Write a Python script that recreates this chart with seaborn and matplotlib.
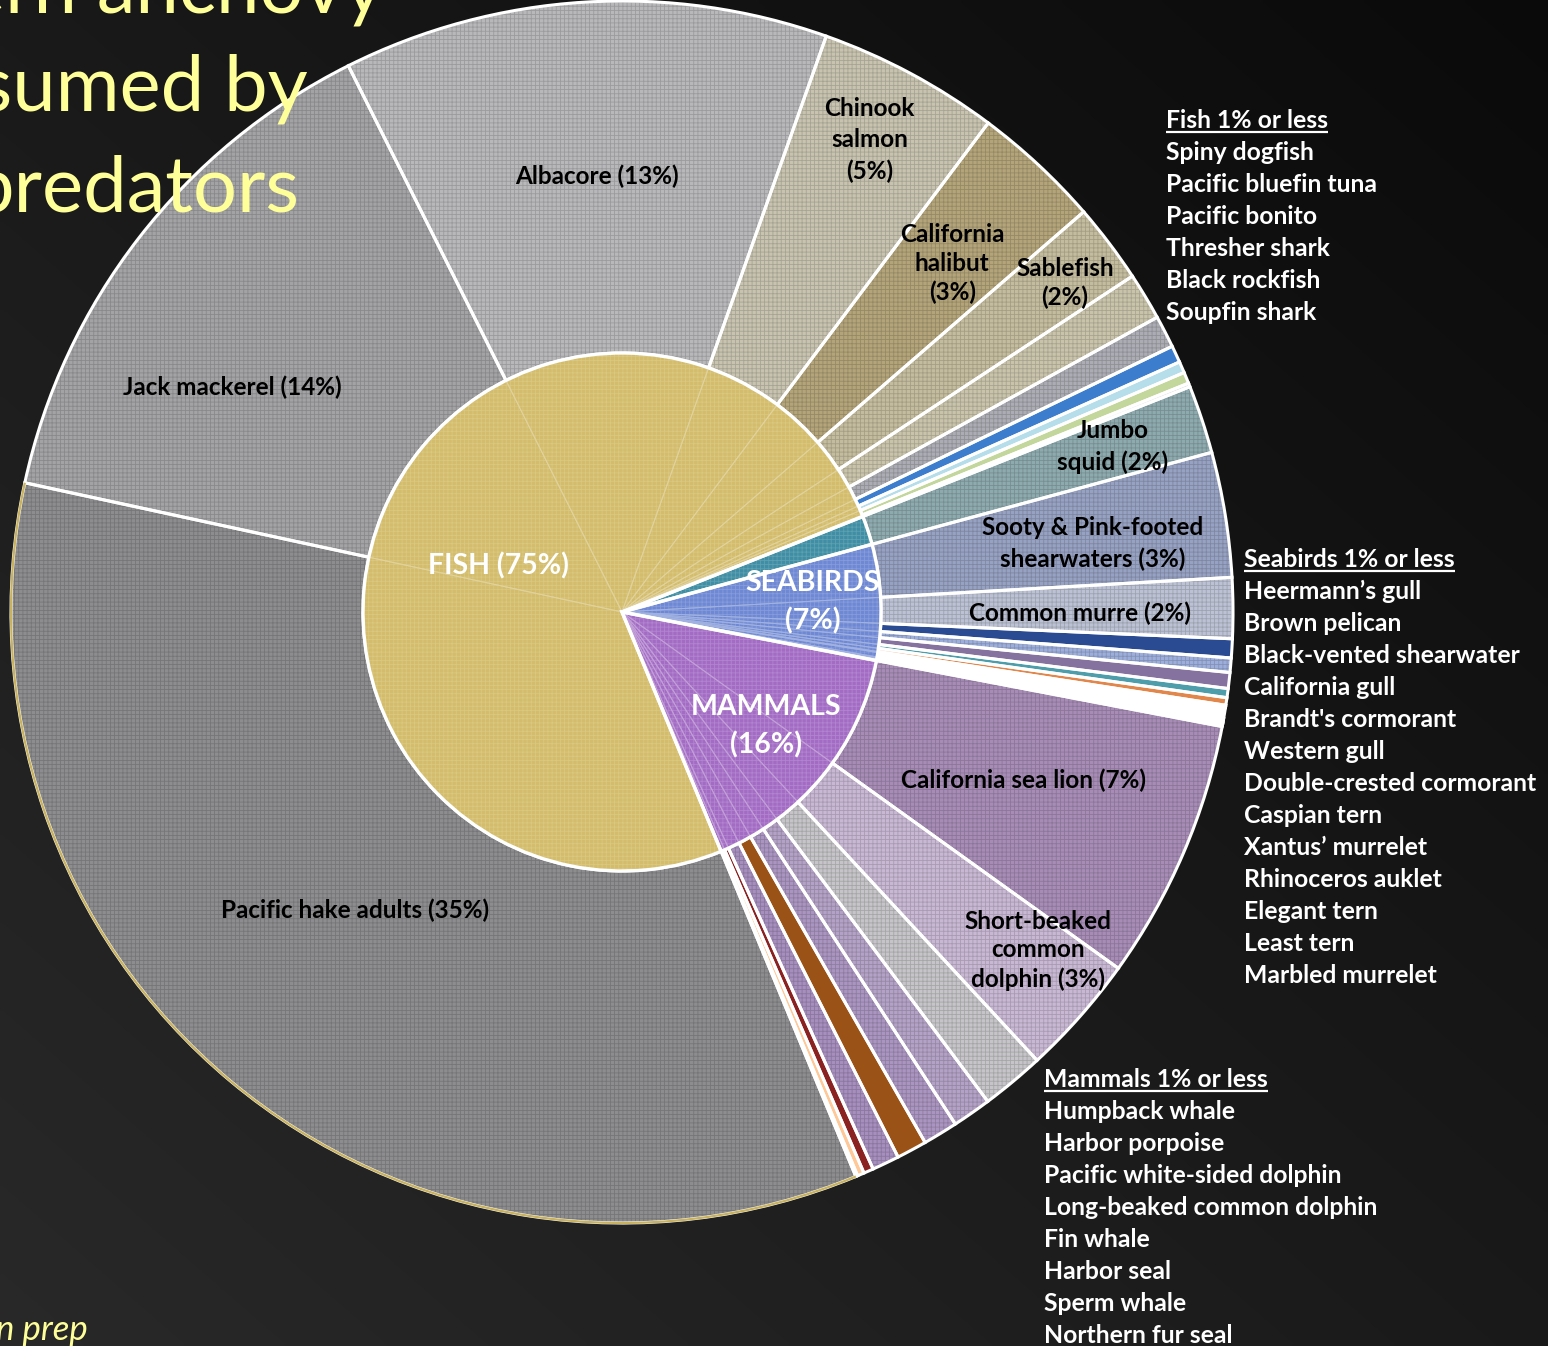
import numpy as np
import pandas as pd
import matplotlib
matplotlib.use("Agg")
import matplotlib.pyplot as plt
from matplotlib.colors import to_rgb
from matplotlib.patches import Arc
import seaborn as sns

# ---------------------------------------------------------------
# Share (%) of northern anchovy consumed, by predator
# ---------------------------------------------------------------
fish_names = ["Pacific hake adults", "Jack mackerel", "Albacore", "Chinook salmon",
              "California halibut", "Sablefish",
              "Spiny dogfish", "Pacific bluefin tuna", "Pacific bonito",
              "Thresher shark", "Black rockfish", "Soupfin shark"]
fish_pct = [34.6, 14.2, 12.8, 4.8, 3.4, 2.1, 1.25, 0.85, 0.45, 0.3, 0.3, 0.1]

squid_names = ["Jumbo squid"]
squid_pct = [1.8]

bird_names = ["Sooty & Pink-footed shearwaters", "Common murre",
              "Heermann’s gull", "Brown pelican", "Black-vented shearwater",
              "California gull", "Brandt's cormorant", "Western gull",
              "Double-crested cormorant", "Caspian tern", "Xantus’ murrelet",
              "Rhinoceros auklet", "Elegant tern", "Least tern", "Marbled murrelet"]
bird_pct = [3.3, 1.6, 0.5, 0.38, 0.42, 0.24, 0.2, 0.06, 0.28,
            0.04, 0.04, 0.04, 0.03, 0.03, 0.04]

mammal_names = ["California sea lion", "Short-beaked common dolphin",
                "Humpback whale", "Harbor porpoise", "Pacific white-sided dolphin",
                "Long-beaked common dolphin", "Fin whale", "Harbor seal",
                "Sperm whale", "Northern fur seal"]
mammal_pct = [6.9, 3.2, 1.67, 1.03, 0.92, 0.8, 0.72, 0.26, 0.18, 0.05]

group_names = ["FISH", "SQUID", "SEABIRDS", "MAMMALS"]

# predators of 1% or less, listed beside the pie
minor_fish = fish_names[6:]
minor_birds = bird_names[2:]
minor_mammals = mammal_names[2:]

# ---------------------------------------------------------------
# Styling
# ---------------------------------------------------------------
fish_colors = ["#8D8D8F", "#A3A3A6", "#B8B8BB", "#C8C3B0", "#B3A47A", "#C4BC9E",
               "#C8C3AA", "#ACACB4", "#3C7ECD", "#B5DDEA", "#C3D69B", "#D9D9D9"]
fish_hatch = ["++++"] * 8 + [""] * 4
squid_colors = ["#8EAAAE"]
squid_hatch = ["++++"]
bird_colors = ["#97A2C2", "#BCC2D4", "#2A4A92", "#9DAEDA", "#85729E", "#4E9DAB",
               "#E2874B", "#5B7CB8", "#FFFFFF", "#D0D0D0", "#FFFFFF", "#C0504D",
               "#FFFFFF", "#E6E6E6", "#FFFFFF"]
bird_hatch = ["++++", "++++", "", "++++", ""] + [""] * 10
mammal_colors = ["#A78DB6", "#C9B8D4", "#C6C4C8", "#B4A2C6", "#AA95C0", "#9B5216",
                 "#A68EBD", "#8A2222", "#FFC898", "#5B3F8F"]
mammal_hatch = ["++++"] * 5 + [""] + ["++++"] + [""] * 3
group_colors = {"FISH": "#D3BC6A", "SQUID": "#3F8EA3",
                "SEABIRDS": "#6E88D3", "MAMMALS": "#A36CC4"}

df = pd.DataFrame({
    "predator": fish_names + squid_names + bird_names + mammal_names,
    "group": (["FISH"] * len(fish_names) + ["SQUID"] * len(squid_names)
              + ["SEABIRDS"] * len(bird_names) + ["MAMMALS"] * len(mammal_names)),
    "pct": fish_pct + squid_pct + bird_pct + mammal_pct,
    "color": fish_colors + squid_colors + bird_colors + mammal_colors,
    "hatch": fish_hatch + squid_hatch + bird_hatch + mammal_hatch,
})
groups = df.groupby("group", sort=False)["pct"].sum().reindex(group_names)

sns.set_theme(style="dark", rc={"hatch.linewidth": 0.6})
plt.rcParams["font.family"] = ["Lato", "DejaVu Sans"]


def mix(c, other, t):
    a, b = np.array(to_rgb(c)), np.array(to_rgb(other))
    return tuple(a * (1 - t) + b * t)


W, H = 1548, 1346
CX, CY = 622, H - 612          # pie centre in pixel units (y up)
R_OUT, R_IN = 611, 259
START_BEARING = 157.5          # clockwise from 12 o'clock

fig = plt.figure(figsize=(W / 100, H / 100), dpi=100)

# dark diagonal backdrop
bg = fig.add_axes([0, 0, 1, 1], zorder=0)
gx, gy = np.meshgrid(np.linspace(0, 1, 300), np.linspace(0, 1, 300))
shade = 0.04 + 0.12 * ((1 - gx) + gy) / 2
bg.imshow(np.dstack([shade] * 3), extent=(0, W, H, 0), aspect="auto",
          interpolation="bilinear")
bg.set_xlim(0, W); bg.set_ylim(H, 0); bg.axis("off")

ax = fig.add_axes([0, 0, 1, 1], zorder=1)
ax.set_facecolor("none")

common = dict(center=(CX, CY), startangle=90 - START_BEARING, counterclock=False)

# ----- outer ring: one wedge per predator -----
outer, _ = ax.pie(df["pct"], radius=R_OUT, colors=df["color"],
                  wedgeprops=dict(width=R_OUT - R_IN, linewidth=0), **common)
for w, c, h in zip(outer, df["color"], df["hatch"]):
    w.set_zorder(1)
    if h:
        w.set_hatch(h)
        w.set_edgecolor(mix(c, "black", 0.16))
        w.set_linewidth(0)

outer_edges, _ = ax.pie(df["pct"], radius=R_OUT, colors=["none"] * len(df),
                        wedgeprops=dict(width=R_OUT - R_IN, linewidth=2.2,
                                        edgecolor="white", facecolor="none"),
                        **common)
for w in outer_edges:
    w.set_zorder(2)

# golden rim on the hake wedge
hake = outer[0]
ax.add_patch(Arc(hake.center, 2 * hake.r, 2 * hake.r, theta1=hake.theta1,
                 theta2=hake.theta2, color="#C9B25E", lw=1.6, zorder=2.5))

# ----- inner pie: predators grouped by class -----
inner_cols = [group_colors[g] for g in df["group"]]
inner, _ = ax.pie(df["pct"], radius=R_IN, colors=inner_cols,
                  wedgeprops=dict(linewidth=0), **common)
for w, c in zip(inner, inner_cols):
    w.set_zorder(3)
    w.set_hatch("++++")
    w.set_edgecolor(mix(c, "white", 0.16))
    w.set_linewidth(0)
sub, _ = ax.pie(df["pct"], radius=R_IN, colors=["none"] * len(df),
                wedgeprops=dict(linewidth=0.7, facecolor="none"), **common)
for w, c in zip(sub, inner_cols):
    w.set_zorder(3.5)
    w.set_edgecolor(mix(c, "white", 0.35))

grp, _ = ax.pie(groups.values, radius=R_IN, colors=["none"] * len(groups),
                wedgeprops=dict(linewidth=2.4, edgecolor="white",
                                facecolor="none"), **common)
for w in grp:
    w.set_zorder(4)

ax.set_xlim(0, W)
ax.set_ylim(0, H)
ax.set_aspect("equal")
ax.axis("off")


def place(wedge, r, dang):
    a = np.deg2rad((wedge.theta1 + wedge.theta2) / 2 - dang)
    return CX + r * np.cos(a), CY + r * np.sin(a)


# ----- slice labels: radius, angular nudge, text, line spacing -----
label_layout = {
    "Pacific hake adults": (400, 2.0, "Pacific hake adults ({p}%)", 1.2),
    "Jack mackerel": (450, -7.9, "Jack mackerel ({p}%)", 1.2),
    "Albacore": (436, 0.3, "Albacore ({p}%)", 1.2),
    "Chinook salmon": (533, -0.5, "Chinook\nsalmon\n({p}%)", 1.42),
    "California halibut": (480, 0.5, "California\nhalibut\n({p}%)", 1.28),
    "Sablefish": (552, 0.5, "Sablefish\n({p}%)", 1.28),
    "Jumbo squid": (518, -0.2, "Jumbo\nsquid ({p}%)", 1.42),
    "Sooty & Pink-footed shearwaters": (476, 0.9,
                                        "Sooty & Pink-footed\nshearwaters ({p}%)", 1.42),
    "Common murre": (458, 0.5, "Common murre ({p}%)", 1.2),
    "California sea lion": (435, -0.5, "California sea lion ({p}%)", 1.2),
    "Short-beaked common dolphin": (536, -2.3,
                                    "Short-beaked\ncommon\ndolphin ({p}%)", 1.28),
}
for i, row in df.iterrows():
    if row["predator"] not in label_layout:
        continue
    r, dang, tpl, ls = label_layout[row["predator"]]
    x, y = place(outer[i], r, dang)
    ax.text(x, y, tpl.format(p=f"{row['pct']:.0f}"), ha="center", va="center",
            fontsize=17.5, fontweight="bold", color="black",
            linespacing=ls, zorder=6)

group_layout = {"FISH": (132, -2.5, "FISH ({p}%)"),
                "SEABIRDS": (191, -0.8, "SEABIRDS\n({p}%)"),
                "MAMMALS": (184, -0.7, "MAMMALS\n({p}%)")}
for w, g in zip(grp, groups.index):
    if g not in group_layout:
        continue
    r, dang, tpl = group_layout[g]
    x, y = place(w, r, dang)
    ax.text(x, y, tpl.format(p=f"{groups[g]:.0f}"), ha="center", va="center",
            fontsize=20.5, fontweight="bold", color="white", linespacing=1.5,
            zorder=6)

# ----- lists of minor predators -----
fig.canvas.draw()
renderer = fig.canvas.get_renderer()


def minor_list(x, base_top, header, items):
    y = H - base_top
    t = ax.text(x, y, header, ha="left", va="baseline", fontsize=17.8,
                fontweight="bold", color="white", zorder=6)
    bb = t.get_window_extent(renderer).transformed(ax.transData.inverted())
    ax.plot([bb.x0, bb.x1], [y - 4, y - 4], color="white", lw=1.6,
            solid_capstyle="butt", zorder=6)
    for k, name in enumerate(items, start=1):
        ax.text(x, y - 32 * k, name, ha="left", va="baseline", fontsize=17.8,
                fontweight="bold", color="white", zorder=6)


minor_list(1166, 128, "Fish 1% or less", minor_fish)
minor_list(1244, 567, "Seabirds 1% or less", minor_birds)
minor_list(1044, 1087, "Mammals 1% or less", minor_mammals)

# ----- slide title and citation -----
title_col = "#FFFF99"
for txt, right, base in [("Northern anchovy", 384, 13),
                         ("consumed by", 308, 110),
                         ("predators", 299, 212)]:
    ax.text(right, H - base, txt, ha="right", va="baseline", fontsize=56,
            color=title_col, zorder=5)
ax.text(88, H - 1340, "in prep", ha="right", va="baseline", fontsize=25,
        style="italic", color=title_col, zorder=5)

fig.savefig("out.png", dpi=100, facecolor="#151515")
